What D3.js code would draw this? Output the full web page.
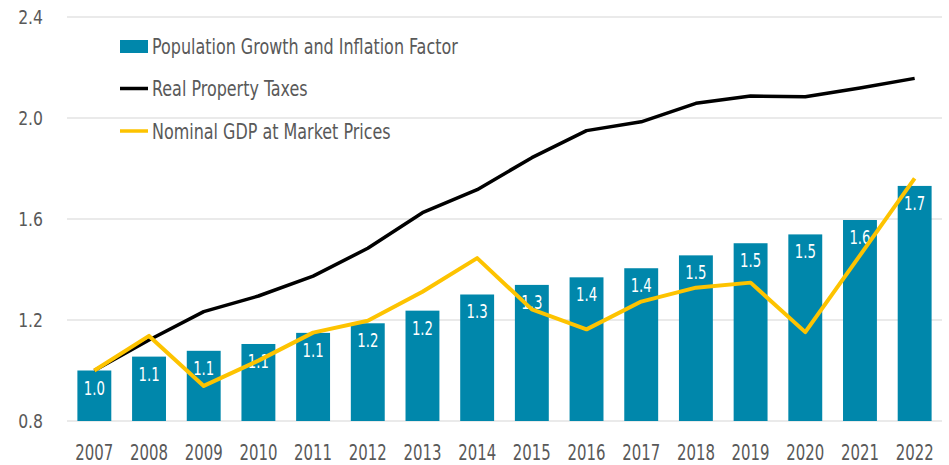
<!DOCTYPE html>
<html><head><meta charset="utf-8">
<script src="https://cdn.jsdelivr.net/npm/d3@7"></script>
<style>
html,body{margin:0;padding:0;background:#fff;}
svg{display:block;font-family:"DejaVu Sans Condensed","Liberation Sans Narrow","Roboto",sans-serif;}
</style></head>
<body><svg id="chart" width="949" height="465"></svg>
<script>
const years = ["2007","2008","2009","2010","2011","2012","2013","2014","2015","2016","2017","2018","2019","2020","2021","2022"];
const popInflation = [1.0,1.055,1.078,1.105,1.149,1.187,1.237,1.301,1.339,1.369,1.405,1.456,1.504,1.539,1.596,1.731];
const realPropertyTaxes = [1.0,1.121,1.233,1.295,1.374,1.484,1.625,1.716,1.843,1.950,1.985,2.058,2.087,2.084,2.119,2.157];
const nominalGDP = [1.0,1.137,0.939,1.039,1.150,1.197,1.312,1.445,1.242,1.163,1.273,1.328,1.348,1.152,1.456,1.761];
const yTicks = [0.8,1.2,1.6,2.0,2.4];
const seriesNames = ["Population Growth and Inflation Factor","Real Property Taxes","Nominal GDP at Market Prices"];

const svg = d3.select("#chart");
const mLeft = 67, mRight = 942, mTop = 17, mBottom = 421;
const x = d3.scaleBand().domain(years).range([mLeft,mRight]).paddingInner(0.38).paddingOuter(0.19);
const y = d3.scaleLinear().domain([0.8,2.4]).range([mBottom,mTop]);
const textCol = "#595959";
const fmt = d3.format(".1f");

// gridlines
svg.append("g").selectAll("line").data(yTicks).join("line")
  .attr("x1",mLeft).attr("x2",mRight)
  .attr("y1",d=>y(d)).attr("y2",d=>y(d))
  .attr("stroke","#e3e3e3").attr("stroke-width",1.3);

// y axis
const yAxis = svg.append("g").attr("transform",`translate(${mLeft-24},0)`)
  .call(d3.axisLeft(y).tickValues(yTicks).tickFormat(fmt).tickSize(0).tickPadding(0));
yAxis.select(".domain").remove();
yAxis.selectAll("text").attr("fill",textCol).style("font-size","20px")
  .attr("transform","scale(0.87,1)")
  .style("font-family","'DejaVu Sans Condensed',sans-serif");

// x axis
const xAxis = svg.append("g").attr("transform",`translate(0,${mBottom})`)
  .call(d3.axisBottom(x).tickSize(0).tickPadding(0));
xAxis.select(".domain").remove();
xAxis.selectAll("text").attr("fill",textCol).style("font-size","21px")
  .attr("y",39).attr("dy",0)
  .attr("transform","scale(0.79,1)")
  .style("font-family","'DejaVu Sans Condensed',sans-serif");

// bars
const barCol = "#0087ab";
svg.append("g").selectAll("rect").data(popInflation).join("rect")
  .attr("x",(d,i)=>x(years[i])).attr("width",x.bandwidth())
  .attr("y",d=>y(d)).attr("height",d=>mBottom-y(d))
  .attr("fill",barCol);

// bar labels
svg.append("g").selectAll("text").data(popInflation).join("text")
  .attr("transform",(d,i)=>`translate(${x(years[i])+x.bandwidth()/2},${y(d)+24}) scale(0.74,1)`)
  .attr("text-anchor","middle").attr("fill","#fff").style("font-size","20px")
  .text(d=>fmt(d));

// lines
const line = d3.line().x((d,i)=>x(years[i])+x.bandwidth()/2).y(d=>y(d));
svg.append("path").datum(realPropertyTaxes).attr("d",line)
  .attr("fill","none").attr("stroke","#000").attr("stroke-width",3.5).attr("stroke-linejoin","round");
svg.append("path").datum(nominalGDP).attr("d",line)
  .attr("fill","none").attr("stroke","#fdc300").attr("stroke-width",4).attr("stroke-linejoin","round");

// legend
const lg = svg.append("g");
const rowsY = [46.5,88.5,131];
lg.append("rect").attr("x",120).attr("y",rowsY[0]-6.5).attr("width",28).attr("height",13).attr("fill",barCol);
lg.append("line").attr("x1",120).attr("x2",148).attr("y1",rowsY[1]).attr("y2",rowsY[1]).attr("stroke","#000").attr("stroke-width",3.5);
lg.append("line").attr("x1",120).attr("x2",148).attr("y1",rowsY[2]).attr("y2",rowsY[2]).attr("stroke","#fdc300").attr("stroke-width",3.5);
lg.selectAll("text").data(seriesNames).join("text")
  .attr("transform",(d,i)=>`translate(152,${rowsY[i]+7.5}) scale(0.845,1)`)
  .attr("fill",textCol).style("font-size","21px").text(d=>d);
</script></body></html>
